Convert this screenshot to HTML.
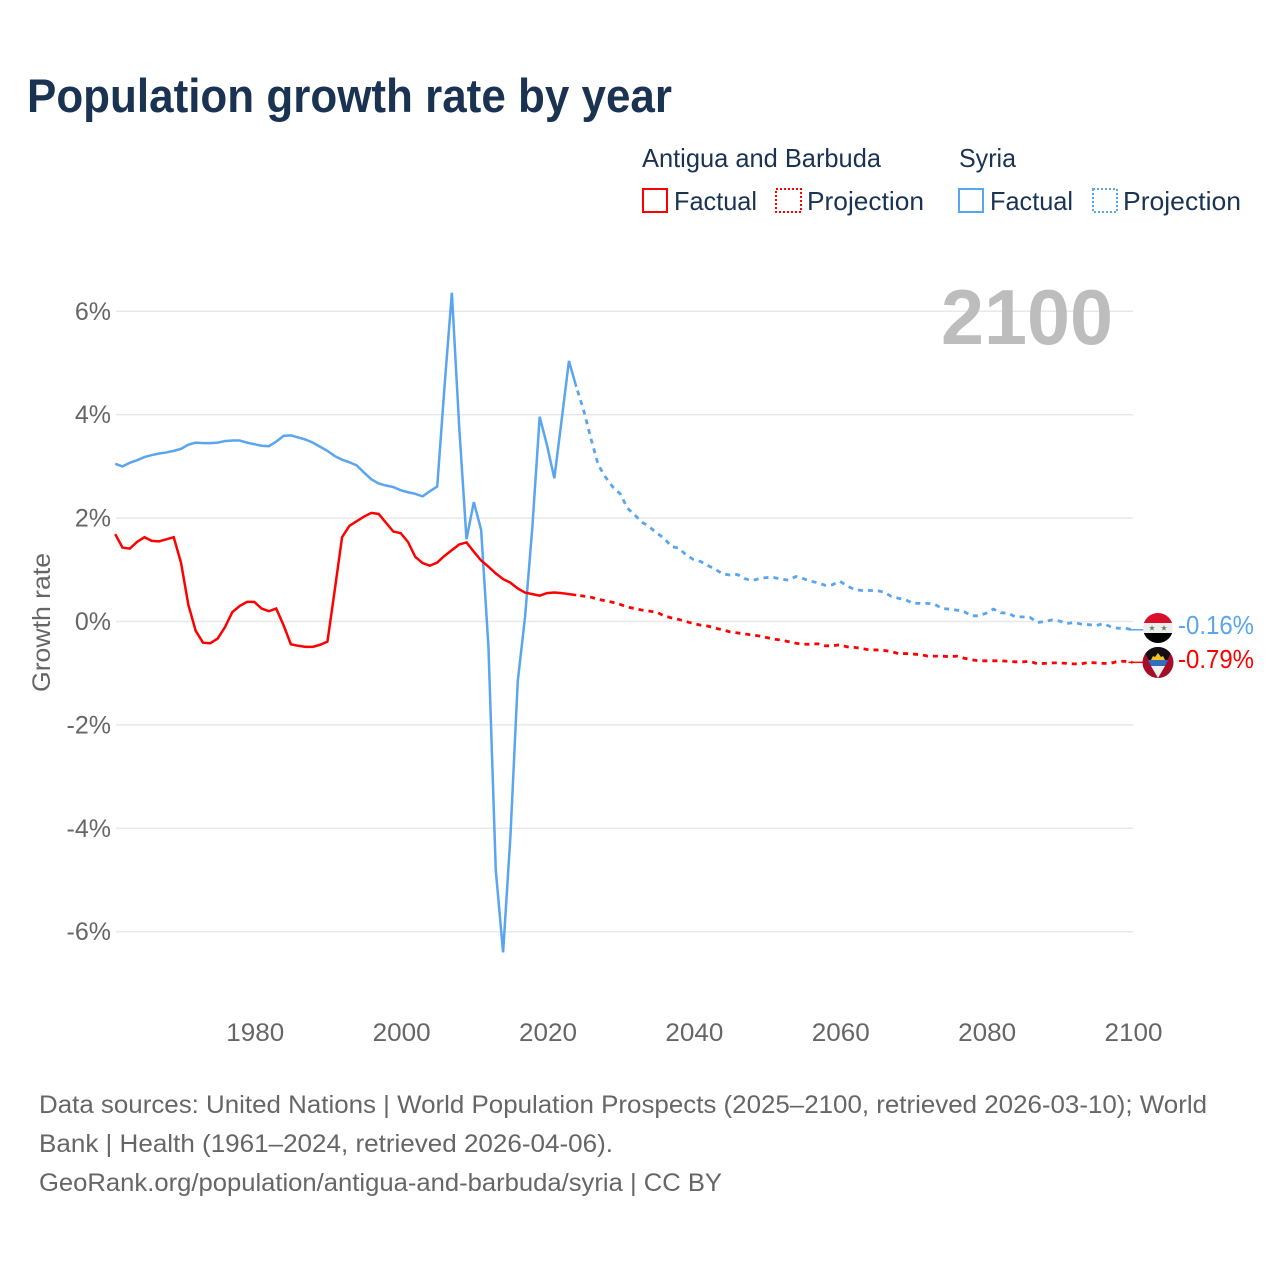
<!DOCTYPE html>
<html lang="en">
<head>
<meta charset="utf-8">
<title>Population growth rate by year</title>
<style>
html,body{margin:0;padding:0;background:#fff;}
svg{display:block;font-family:"Liberation Sans",sans-serif;}
</style>
</head>
<body>
<svg id="chart" xmlns="http://www.w3.org/2000/svg" width="1280" height="1280" viewBox="0 0 1280 1280">
  <rect x="0" y="0" width="1280" height="1280" fill="#fff"/>
  <text x="27" y="112" font-size="47" font-weight="700" fill="#1a3353" textLength="645" lengthAdjust="spacingAndGlyphs">Population growth rate by year</text>

  <g font-size="26" fill="#1a3353">
    <text x="642" y="167" textLength="239" lengthAdjust="spacingAndGlyphs">Antigua and Barbuda</text>
    <text x="959" y="167" textLength="57" lengthAdjust="spacingAndGlyphs">Syria</text>
    <rect x="643" y="189" width="24" height="23" fill="none" stroke="#ff0000" stroke-width="2"/>
    <text x="674" y="210" textLength="83" lengthAdjust="spacingAndGlyphs">Factual</text>
    <rect x="776" y="189" width="25" height="23" fill="none" stroke="#ff0000" stroke-width="2" stroke-dasharray="2 2"/>
    <text x="807" y="210" textLength="117" lengthAdjust="spacingAndGlyphs">Projection</text>
    <rect x="959" y="189" width="24" height="23" fill="none" stroke="#5aa5f0" stroke-width="2"/>
    <text x="990" y="210" textLength="83" lengthAdjust="spacingAndGlyphs">Factual</text>
    <rect x="1093" y="189" width="24" height="23" fill="none" stroke="#5aa5f0" stroke-width="2" stroke-dasharray="2 2"/>
    <text x="1123" y="210" textLength="118" lengthAdjust="spacingAndGlyphs">Projection</text>
  </g>

  <g id="grid"></g>
  <g id="yticks" font-size="25" fill="#666"></g>
  <g id="xticks" font-size="25" fill="#666"></g>

  <text transform="translate(50,692) rotate(-90)" font-size="25" fill="#666" textLength="139" lengthAdjust="spacingAndGlyphs">Growth rate</text>
  <text id="year-label" x="941" y="344" font-size="78" font-weight="700" fill="#bdbdbd" textLength="172" lengthAdjust="spacingAndGlyphs"></text>

  <g id="series"></g>

  <g>
    <clipPath id="clip-sy"><circle cx="1158" cy="628" r="15"/></clipPath>
    <g clip-path="url(#clip-sy)">
      <rect x="1143" y="613" width="30" height="10" fill="#d8102c"/>
      <rect x="1143" y="623" width="30" height="10" fill="#eee"/>
      <rect x="1143" y="633" width="30" height="10" fill="#000"/>
      <polygon points="1152,625 1152.8,627.2 1155,627.2 1153.2,628.6 1153.9,630.8 1152,629.4 1150.1,630.8 1150.8,628.6 1149,627.2 1151.2,627.2" fill="#5d8a60"/>
      <polygon points="1164,625 1164.8,627.2 1167,627.2 1165.2,628.6 1165.9,630.8 1164,629.4 1162.1,630.8 1162.8,628.6 1161,627.2 1163.2,627.2" fill="#5d8a60"/>
    </g>
  </g>
  <g>
    <clipPath id="clip-ag"><circle cx="1158" cy="662.500" r="15.500"/></clipPath>
    <g clip-path="url(#clip-ag)">
      <rect x="1142" y="647" width="32" height="32" fill="#a50d28"/>
      <polygon points="1142,647 1174,647 1158,678" fill="#111"/>
      <polygon points="1148,660 1168,660 1165,666 1151,666" fill="#2f6fc0"/>
      <polygon points="1151,666 1165,666 1158,678" fill="#eeeeee"/>
      <polygon points="1151,660 1153,656 1155,657 1158,653 1161,657 1163,656 1165,660" fill="#f6c31c"/>
    </g>
  </g>
  <g id="end-labels" font-size="26"></g>

  <g font-size="25" fill="#666">
    <text x="39" y="1113" textLength="1168" lengthAdjust="spacingAndGlyphs">Data sources: United Nations | World Population Prospects (2025–2100, retrieved 2026-03-10); World</text>
    <text x="39" y="1152" textLength="574" lengthAdjust="spacingAndGlyphs">Bank | Health (1961–2024, retrieved 2026-04-06).</text>
    <text x="39" y="1191" textLength="683" lengthAdjust="spacingAndGlyphs">GeoRank.org/population/antigua-and-barbuda/syria | CC BY</text>
  </g>
</svg>
<script>
const yTickValues = [6, 4, 2, 0, -2, -4, -6];
const xTickYears = [1980, 2000, 2020, 2040, 2060, 2080, 2100];
const firstYear = 1961;
const factualLastYear = 2024;
const lastYear = 2100;

const antiguaFactual = [1.69,1.43,1.41,1.54,1.63,1.56,1.55,1.59,1.63,1.13,0.32,-0.18,-0.41,-0.42,-0.33,-0.11,0.18,0.30,0.38,0.38,0.25,0.20,0.25,-0.07,-0.44,-0.47,-0.49,-0.49,-0.45,-0.39,0.61,1.63,1.85,1.94,2.03,2.10,2.08,1.91,1.74,1.71,1.54,1.25,1.13,1.08,1.14,1.27,1.38,1.49,1.53,1.35,1.18,1.06,0.93,0.82,0.75,0.64,0.56,0.53,0.50,0.55,0.56,0.55,0.53,0.51];
const antiguaProjection = [0.49,0.47,0.43,0.40,0.37,0.33,0.28,0.25,0.22,0.20,0.18,0.11,0.07,0.04,0.00,-0.04,-0.07,-0.09,-0.13,-0.16,-0.20,-0.22,-0.24,-0.26,-0.28,-0.31,-0.34,-0.36,-0.39,-0.42,-0.44,-0.44,-0.43,-0.47,-0.47,-0.45,-0.49,-0.50,-0.52,-0.55,-0.55,-0.56,-0.58,-0.62,-0.62,-0.63,-0.64,-0.67,-0.67,-0.67,-0.68,-0.67,-0.71,-0.74,-0.76,-0.76,-0.76,-0.76,-0.77,-0.78,-0.78,-0.77,-0.82,-0.81,-0.80,-0.80,-0.81,-0.82,-0.82,-0.79,-0.80,-0.81,-0.81,-0.77,-0.77,-0.79];
const syriaFactual = [3.05,3.00,3.07,3.12,3.18,3.22,3.25,3.27,3.30,3.34,3.42,3.46,3.45,3.45,3.46,3.49,3.50,3.50,3.46,3.43,3.40,3.39,3.48,3.59,3.60,3.56,3.52,3.46,3.38,3.30,3.20,3.13,3.08,3.02,2.88,2.75,2.67,2.63,2.60,2.54,2.50,2.47,2.42,2.52,2.61,4.55,6.36,3.77,1.59,2.31,1.77,-0.49,-4.81,-6.40,-4.16,-1.16,0.09,1.83,3.96,3.41,2.77,3.90,5.04,4.54];
const syriaProjection = [4.09,3.54,3.03,2.79,2.60,2.47,2.19,2.06,1.92,1.83,1.71,1.61,1.45,1.42,1.29,1.20,1.16,1.08,1.01,0.92,0.90,0.91,0.83,0.79,0.83,0.85,0.85,0.82,0.80,0.87,0.83,0.78,0.75,0.70,0.71,0.78,0.69,0.62,0.60,0.60,0.60,0.57,0.49,0.45,0.42,0.35,0.35,0.35,0.33,0.25,0.24,0.22,0.19,0.11,0.11,0.16,0.24,0.17,0.16,0.09,0.09,0.08,-0.02,0.00,0.03,0.01,-0.04,-0.02,-0.05,-0.06,-0.08,-0.04,-0.10,-0.13,-0.13,-0.16];

const SVG_NS = 'http://www.w3.org/2000/svg';
const gridLeft = 116, gridRight = 1133, dataLeft = 115.2, dataRight = 1132.5, zeroY = 621.5, pxPerUnit = 51.7;
const RED = '#ff0000', BLUE = '#5aa5f0';

function xScale(year) {
  return dataLeft + (year - firstYear) * (dataRight - dataLeft) / (lastYear - firstYear);
}
function yScale(value) {
  return zeroY - value * pxPerUnit;
}
function make(tag, parent) {
  const el = document.createElementNS(SVG_NS, tag);
  parent.appendChild(el);
  return el;
}
function pointsFrom(values, startYear) {
  return values.map(function (v, i) {
    return xScale(startYear + i).toFixed(2) + ',' + yScale(v).toFixed(2);
  }).join(' ');
}
function percent(v) {
  return v + '%';
}

const gridGroup = document.getElementById('grid');
const yTickGroup = document.getElementById('yticks');
yTickValues.forEach(function (v) {
  const line = make('line', gridGroup);
  
  
  line.setAttribute('x1', gridLeft);
  line.setAttribute('x2', gridRight);
  line.setAttribute('y1', yScale(v));
  line.setAttribute('y2', yScale(v));
  line.setAttribute('stroke', '#e8e8e8');
  line.setAttribute('stroke-width', '1.5');
  const label = make('text', yTickGroup);
  
  
  label.setAttribute('x', 111);
  label.setAttribute('y', yScale(v) + 8.5);
  label.setAttribute('text-anchor', 'end');
  label.textContent = percent(v);
});

const xTickGroup = document.getElementById('xticks');
xTickYears.forEach(function (yr) {
  const label = make('text', xTickGroup);
  
  
  label.setAttribute('x', xScale(yr) + 1);
  label.setAttribute('y', 1041);
  label.setAttribute('text-anchor', 'middle');
  label.setAttribute('textLength', '58');
  label.setAttribute('lengthAdjust', 'spacingAndGlyphs');
  label.textContent = yr;
});

document.getElementById('year-label').textContent = lastYear;

const seriesGroup = document.getElementById('series');
function drawSeries(slug, color, factual, projection) {
  const solid = make('polyline', seriesGroup);
  
  
  solid.setAttribute('points', pointsFrom(factual, firstYear));
  solid.setAttribute('fill', 'none');
  solid.setAttribute('stroke', color);
  solid.setAttribute('stroke-width', '2.5');
  const dashed = make('polyline', seriesGroup);
  
  
  dashed.setAttribute('points', pointsFrom([factual[factual.length - 1]].concat(projection), factualLastYear));
  dashed.setAttribute('fill', 'none');
  dashed.setAttribute('stroke', color);
  dashed.setAttribute('stroke-width', '2.8');
  dashed.setAttribute('stroke-dasharray', '5 5');
  dashed.setAttribute('stroke-dashoffset', '-4');
  const lastValue = projection[projection.length - 1];
  const stub = make('line', seriesGroup);
  
  
  stub.setAttribute('x1', xScale(lastYear) - 4);
  stub.setAttribute('x2', 1144);
  stub.setAttribute('y1', yScale(lastValue));
  stub.setAttribute('y2', yScale(lastValue));
  stub.setAttribute('stroke', color);
  stub.setAttribute('stroke-width', '1.5');
}
drawSeries('syria', BLUE, syriaFactual, syriaProjection);
drawSeries('antigua', RED, antiguaFactual, antiguaProjection);

const endGroup = document.getElementById('end-labels');
function drawEndLabel(slug, color, value, baseline) {
  const label = make('text', endGroup);
  
  
  label.setAttribute('x', 1178);
  label.setAttribute('y', baseline);
  label.setAttribute('fill', color);
  label.setAttribute('textLength', '76');
  label.setAttribute('lengthAdjust', 'spacingAndGlyphs');
  label.textContent = value.toFixed(2) + '%';
}
drawEndLabel('syria', BLUE, syriaProjection[syriaProjection.length - 1], 634);
drawEndLabel('antigua', RED, antiguaProjection[antiguaProjection.length - 1], 668);
</script>
</body>
</html>
